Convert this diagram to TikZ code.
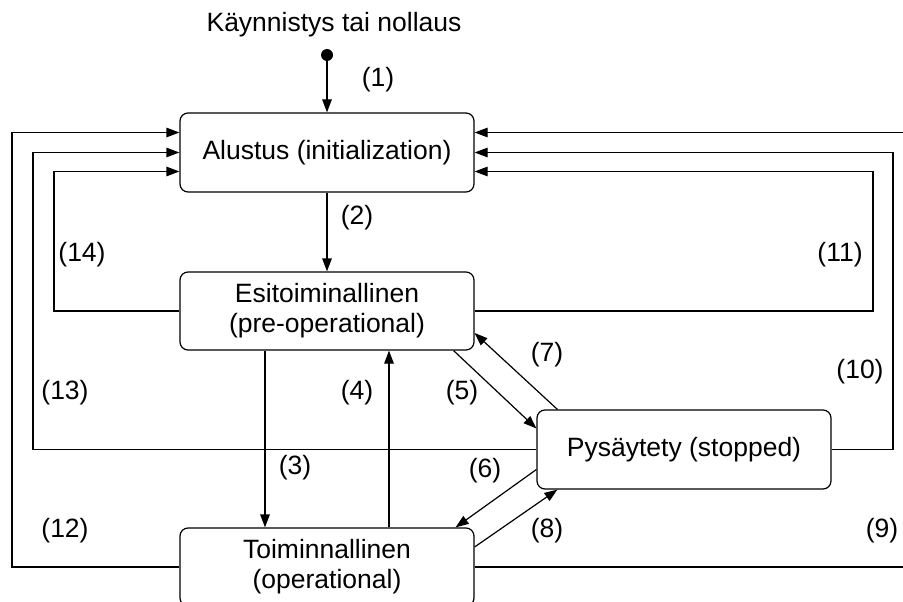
\documentclass[tikz,border=0pt]{standalone}
\usepackage{fontspec}
\setmainfont{Liberation Sans}
\usetikzlibrary{arrows.meta}
\tikzset{
  state/.style={draw, line width=1.2pt, rounded corners=8pt, minimum width=294pt,
    align=center, inner sep=0pt},
  arr/.style={line width=1.2pt, -{Triangle[length=13pt,width=9.5pt]}},
  lbl/.style={inner sep=0pt},
  every node/.style={font=\fontsize{26.5}{30}\selectfont}
}
\begin{document}
\begin{tikzpicture}[x=1pt,y=-1pt]
  \clip (0,0) rectangle (903,602);
  \fill[white] (0,0) rectangle (903,602);

  % states
  \node[state, minimum height=79pt] (alu) at (327,152.5) {Alustus (initialization)};
  \node[state, minimum height=78pt] (esi) at (327,311) {Esitoiminallinen\\(pre-operational)};
  \node[state, minimum height=79pt] (pys) at (684,449.5) {Pysäytety (stopped)};
  \node[state, minimum height=78pt] (toi) at (327,567) {Toiminnallinen\\(operational)};

  % start point
  \node[lbl] (title) at (334,25) {Käynnistys tai nollaus};
  \node[circle, fill, minimum size=12pt, inner sep=0pt] (start) at (327,55) {};

  % return lanes on the left and right
  \coordinate (l1) at (12,300);
  \coordinate (l2) at (33,300);
  \coordinate (l3) at (54,300);
  \coordinate (r1) at (912,300);
  \coordinate (r2) at (893,300);
  \coordinate (r3) at (873,300);

  % transitions
  \draw[arr] (start) -- (alu.north);
  \draw[arr] (alu.south) -- (esi.north);
  \draw[arr] ([xshift=-62pt]esi.south) -- ([xshift=-62pt]toi.north);
  \draw[arr] ([xshift=62pt]toi.north) -- ([xshift=62pt]esi.south);
  \draw[arr] ([xshift=-21pt]esi.south east) -- ([yshift=21pt]pys.west);
  \draw[arr] ([yshift=-20pt]pys.west) -- ([xshift=-19pt]toi.north east);
  \draw[arr] ([xshift=21pt]pys.north west) -- ([yshift=-22pt]esi.east);
  \draw[arr] ([yshift=20pt]toi.east) -- ([xshift=21pt]pys.south west);

  \draw[arr] (toi.east) -| (r1) |- ([yshift=20pt]alu.east);
  \draw[arr] (pys.east) -| (r2) |- (alu.east);
  \draw[arr] (esi.east) -| (r3) |- ([yshift=-19pt]alu.east);
  \draw[arr] (toi.west) -| (l1) |- ([yshift=20pt]alu.west);
  \draw[arr] (pys.west) -| (l2) |- (alu.west);
  \draw[arr] (esi.west) -| (l3) |- ([yshift=-19pt]alu.west);

  % transition numbers
  \node[lbl] (n1) at (378,80) {(1)};
  \node[lbl] (n2) at (357,218) {(2)};
  \node[lbl] (n3) at (295,468) {(3)};
  \node[lbl] (n4) at (357,393) {(4)};
  \node[lbl] (n5) at (462,393) {(5)};
  \node[lbl] (n6) at (485,471) {(6)};
  \node[lbl] (n7) at (547,355) {(7)};
  \node[lbl] (n8) at (547,531) {(8)};
  \node[lbl] (n9) at (882,531) {(9)};
  \node[lbl] (n10) at (860,372) {(10)};
  \node[lbl] (n11) at (840,255) {(11)};
  \node[lbl] (n12) at (65,531) {(12)};
  \node[lbl] (n13) at (65,393) {(13)};
  \node[lbl] (n14) at (82,255) {(14)};
\end{tikzpicture}
\end{document}
